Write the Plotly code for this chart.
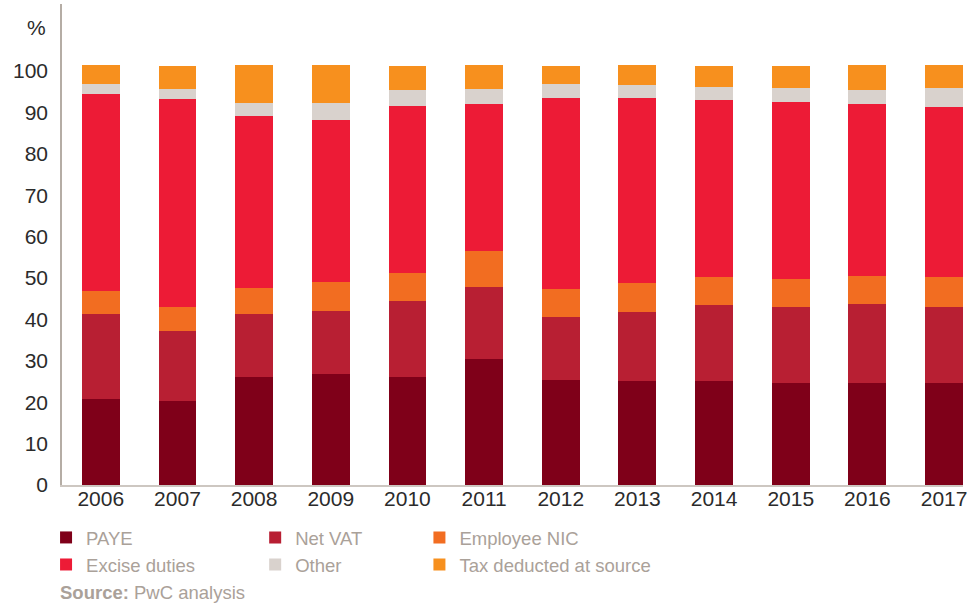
import plotly.graph_objects as go

years = ["2006", "2007", "2008", "2009", "2010", "2011", "2012", "2013", "2014", "2015", "2016", "2017"]
paye = [20.8, 20.3, 26.1, 26.8, 26.1, 30.4, 25.4, 25.1, 25.1, 24.6, 24.6, 24.6]
net_vat = [20.5, 16.9, 15.2, 15.2, 18.3, 17.4, 15.2, 16.7, 18.4, 18.4, 19.1, 18.4]
employee_nic = [5.6, 5.8, 6.3, 7.0, 6.8, 8.7, 6.7, 7.0, 6.7, 6.8, 6.8, 7.2]
excise_duties = [47.5, 50.2, 41.5, 39.2, 40.3, 35.5, 46.2, 44.7, 42.8, 42.7, 41.5, 41.1]
other = [2.5, 2.5, 3.2, 4.1, 3.9, 3.7, 3.4, 3.1, 3.1, 3.4, 3.4, 4.6]
tax_at_source = [4.5, 5.5, 9.1, 9.1, 5.8, 5.7, 4.3, 4.8, 5.1, 5.3, 6.0, 5.5]

series = [
    ("PAYE", paye, "#7f0019", "legend"),
    ("Net VAT", net_vat, "#b81f33", "legend2"),
    ("Employee NIC", employee_nic, "#f26d21", "legend3"),
    ("Excise duties", excise_duties, "#ed1b36", "legend"),
    ("Other", other, "#d9d2cd", "legend2"),
    ("Tax deducted at source", tax_at_source, "#f7901e", "legend3"),
]

fig = go.Figure()
for name, vals, color, leg in series:
    fig.add_trace(go.Bar(
        x=years, y=vals, name=name, legend=leg, legendgroup=name,
        marker=dict(color=color, line=dict(width=0)),
        hoverinfo="x+y+name",
    ))

legend_font = dict(family="Liberation Sans, Arial, sans-serif", size=18.5, color="#aaa199")
leg_common = dict(orientation="v", traceorder="normal", xanchor="left", yanchor="top",
                  y=-0.0705, font=legend_font, bgcolor="rgba(0,0,0,0)",
                  tracegroupgap=4, itemclick=False, itemdoubleclick=False)

fig.update_layout(
    width=967, height=603,
    margin=dict(l=62, r=0, t=4, b=118),
    barmode="stack", bargap=0.506,
    plot_bgcolor="white", paper_bgcolor="white",
    font=dict(family="Liberation Sans, Arial, sans-serif", color="#2b2b2b"),
    xaxis=dict(
        type="category", range=[-0.506, 11.247], showgrid=False, zeroline=False,
        showline=True, linecolor="#cdc7c1", linewidth=1.5,
        ticks="", tickfont=dict(size=21, color="#2b2b2b"), ticklabelstandoff=-6,
        fixedrange=True,
    ),
    yaxis=dict(
        range=[0, 116.2], tickvals=[0, 10, 20, 30, 40, 50, 60, 70, 80, 90, 100],
        showgrid=False, zeroline=False, showline=True, linecolor="#b5ada5", linewidth=1.5,
        ticks="", tickfont=dict(size=21, color="#2b2b2b"), ticklabelstandoff=8,
        fixedrange=True,
    ),
    legend=dict(x=-0.0177, **leg_common),
    legend2=dict(x=0.2144, **leg_common),
    legend3=dict(x=0.3967, **leg_common),
    annotations=[
        dict(text="%", xref="paper", yref="paper", x=-0.0155, y=0.952,
             xanchor="right", yanchor="middle", showarrow=False,
             font=dict(size=21, color="#2b2b2b")),
        dict(text="<b>Source:</b> PwC analysis", xref="paper", yref="paper",
             x=-0.0044, y=-0.2225, xanchor="left", yanchor="middle", showarrow=False,
             font=dict(size=18.5, color="#aaa199")),
    ],
)

fig.write_html(
    "out.html",
    config={"displayModeBar": False},
    post_script="document.body.style.margin='0';document.body.style.overflow='hidden';",
)
